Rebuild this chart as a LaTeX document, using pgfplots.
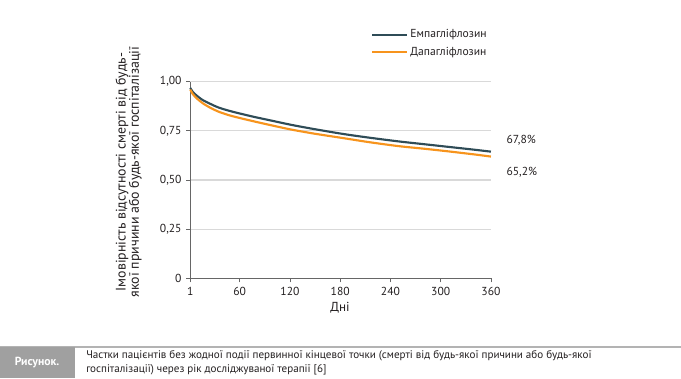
\documentclass[border=0pt]{standalone}
\usepackage{pgfplots}
\pgfplotsset{compat=1.18}
\usepackage{fontspec}
\setmainfont{PT Sans}
\definecolor{empa}{HTML}{2F4C57}
\definecolor{dapa}{HTML}{F7941D}
\definecolor{txt}{HTML}{231F20}
\definecolor{gridc}{HTML}{D9D9D9}
\definecolor{boxc}{HTML}{A0A0A0}
\begin{document}
\begin{tikzpicture}
\useasboundingbox (0,0) rectangle (510.75pt,283.5pt);
\begin{axis}[
  at={(142.7pt,74.8pt)}, anchor=south west,
  scale only axis, width=225.5pt, height=147.45pt,
  xmin=1, xmax=360, ymin=0, ymax=1,
  axis x line=bottom, axis y line=left,
  axis line style={draw=gray!80!black, line width=0.6pt, -},
  xtick={1,60,120,180,240,300,360},
  ytick={0,0.25,0.5,0.75,1},
  yticklabels={0,{0,25},{0,50},{0,75},{1,00}},
  tick style={draw=gray!80!black, line width=0.6pt},
  tick align=outside, major tick length=3pt,
  ymajorgrids, grid style={gridc, line width=0.9pt},
  tick label style={font=\fontsize{8.7}{10}\selectfont, text=txt},
  /pgf/number format/assume math mode=true,
  clip=false,
  legend style={at={(0.60,1.28)}, anchor=north west, draw=none, fill=none,
    font=\fontsize{8.7}{10}\selectfont, text=txt, inner sep=0pt,
    row sep=1.6pt, legend cell align=left},
  legend image code/.code={\draw[#1, line width=1.6pt] (0pt,0pt) -- (26pt,0pt);},
]
\addplot[empa, line width=1.6pt, smooth] coordinates {
(1,0.968)(4,0.948)(9,0.928)(16,0.906)(25,0.887)(35,0.868)(50,0.849)(75,0.823)(100,0.800)(122,0.780)(150,0.758)(185,0.733)(215,0.715)(250,0.696)(280,0.682)(310,0.668)(340,0.654)(360,0.644)};
\addlegendentry{Емпагліфлозин}
\addplot[dapa, line width=1.6pt, smooth] coordinates {
(1,0.960)(4,0.937)(9,0.914)(16,0.890)(25,0.867)(35,0.847)(50,0.826)(75,0.800)(100,0.776)(122,0.756)(150,0.735)(185,0.712)(215,0.692)(250,0.672)(280,0.659)(310,0.645)(340,0.630)(360,0.619)};
\addlegendentry{Дапагліфлозин}
\node[anchor=west, font=\fontsize{8.7}{10}\selectfont, text=txt] at (axis cs:373,0.703) {67,8\%};
\node[anchor=west, font=\fontsize{8.7}{10}\selectfont, text=txt] at (axis cs:373,0.540) {65,2\%};
\end{axis}
\node[rotate=90, align=center, font=\fontsize{10.4}{10}\selectfont, text=txt] at (96.5pt,154.5pt)
  {Імовірність відсутності смерті від будь-\\якої причини або будь-якої госпіталізації};
\node[font=\fontsize{9.8}{10}\selectfont, text=txt] at (255pt,52.5pt) {Дні};
\draw[boxc!80, line width=0.9pt] (0,23.25pt) -- (510.75pt,23.25pt);
\fill[boxc] (0,0) rectangle (56.25pt,23.25pt);
\node[text=white, font=\bfseries\fontsize{8.8}{10}\selectfont] at (27.75pt,11.25pt) {Рисунок.};
\node[anchor=north west, align=left, inner sep=0pt, text=txt, font=\fontsize{8.3}{10.5}\selectfont] at (64.5pt,20.5pt)
  {Частки пацієнтів без жодної події первинної кінцевої точки (смерті від будь-якої причини або будь-якої\\госпіталізації) через рік досліджуваної терапії [6]};
\end{tikzpicture}
\end{document}
